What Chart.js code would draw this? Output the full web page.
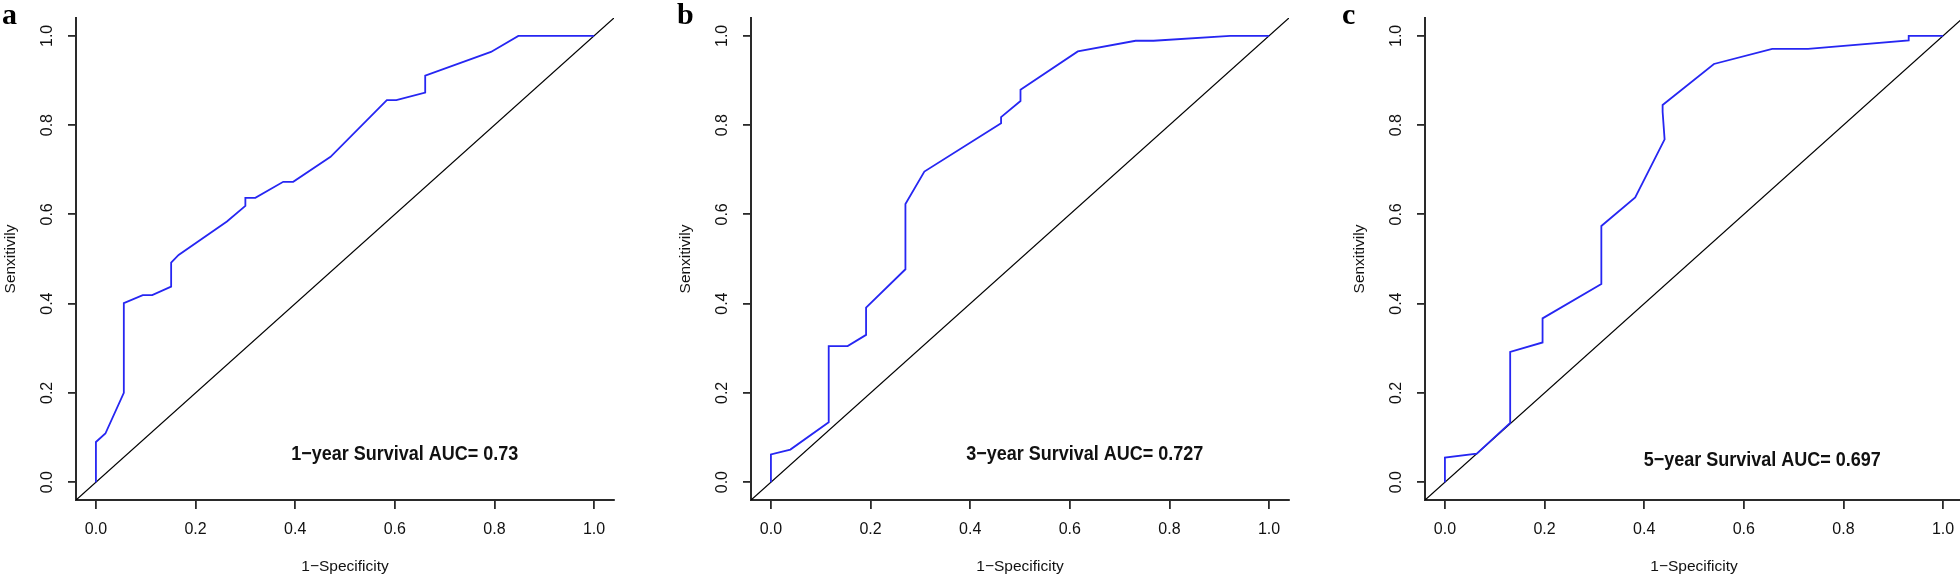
<!DOCTYPE html>
<html>
<head>
<meta charset="utf-8">
<script src="https://cdn.jsdelivr.net/npm/chart.js@4.4.0/dist/chart.umd.min.js"></script>
<style>
  html, body { margin:0; padding:0; background:#fff; overflow:hidden; width:1960px; height:578px; }
  .panel { position:absolute; top:0; width:640px; height:578px; }
</style>
</head>
<body>
<div class="panel" style="left:-14px"><canvas id="rocA" width="640" height="578"></canvas></div>
<div class="panel" style="left:661px"><canvas id="rocB" width="640" height="578"></canvas></div>
<div class="panel" style="left:1335px"><canvas id="rocC" width="640" height="578"></canvas></div>
<script>
// ===== 資料 =====
const fprA = [0, 0, 0.019, 0.056, 0.056, 0.094, 0.113, 0.151, 0.151, 0.166, 0.263, 0.300, 0.300, 0.320, 0.376, 0.396, 0.471, 0.584, 0.603, 0.661, 0.661, 0.793, 0.848, 1.0];
const tprA = [0, 0.090, 0.109, 0.200, 0.401, 0.419, 0.419, 0.438, 0.492, 0.509, 0.584, 0.619, 0.637, 0.637, 0.673, 0.673, 0.729, 0.856, 0.856, 0.873, 0.911, 0.964, 1.0, 1.0];

const fprB = [0, 0, 0.039, 0.116, 0.116, 0.154, 0.191, 0.191, 0.270, 0.270, 0.308, 0.462, 0.462, 0.501, 0.501, 0.616, 0.732, 0.768, 0.922, 1.0];
const tprB = [0, 0.062, 0.073, 0.134, 0.305, 0.305, 0.330, 0.391, 0.477, 0.623, 0.696, 0.804, 0.818, 0.854, 0.879, 0.965, 0.989, 0.989, 1.0, 1.0];

const fprC = [0, 0, 0.064, 0.131, 0.131, 0.196, 0.196, 0.314, 0.314, 0.382, 0.441, 0.437, 0.437, 0.540, 0.657, 0.729, 0.931, 0.931, 1.0];
const tprC = [0, 0.055, 0.064, 0.133, 0.292, 0.313, 0.367, 0.444, 0.574, 0.638, 0.768, 0.830, 0.845, 0.937, 0.971, 0.971, 0.990, 1.0, 1.0];

// 對角參考線 y = x
const refX = [-0.04, 1.04];
const refY = [-0.04, 1.04];

const tickVals = [0, 0.2, 0.4, 0.6, 0.8, 1.0];
const tickLabels = ['0.0', '0.2', '0.4', '0.6', '0.8', '1.0'];

const panelLetters = ['a', 'b', 'c'];
const aucLabels = ['1\u2212year Survival AUC= 0.73', '3\u2212year Survival AUC= 0.727', '5\u2212year Survival AUC= 0.697'];
const xTitle = '1\u2212Specificity';
const yTitle = 'Senxitivily';

// 文字位置（資料座標）
const aucAnchorX = [0.62, 0.63, 0.637];
const aucAnchorY = [0.063, 0.061, 0.049];
const letterX = [16, 16, 7];

const FONT = '"Liberation Sans", Arial, Helvetica, sans-serif';
const AXIS_COLOR = '#2a2a2a';

// ===== 文字外掛：刻度標籤、軸標題、AUC、面板字母 =====
const rocText = {
  id: 'rocText',
  afterDraw(chart, args, opts) {
    const { ctx, chartArea, scales: { x, y } } = chart;
    ctx.save();
    ctx.fillStyle = '#111';
    ctx.textAlign = 'center';
    ctx.textBaseline = 'middle';
    ctx.font = '16px ' + FONT;
    tickVals.forEach((v, i) => {
      ctx.fillText(tickLabels[i], x.getPixelForValue(v), 530);
    });
    tickVals.forEach((v, i) => {
      ctx.save();
      ctx.translate(chartArea.left - 28, y.getPixelForValue(v));
      ctx.rotate(-Math.PI / 2);
      ctx.fillText(tickLabels[i], 0, 0);
      ctx.restore();
    });
    ctx.font = '15.5px ' + FONT;
    ctx.fillText(xTitle, (x.getPixelForValue(-0.04) + x.getPixelForValue(1.04)) / 2, 567);
    ctx.save();
    ctx.translate(chartArea.left - 65, (chartArea.top + chartArea.bottom) / 2);
    ctx.rotate(-Math.PI / 2);
    ctx.fillText(yTitle, 0, 0);
    ctx.restore();

    // AUC
    ctx.save();
    ctx.translate(x.getPixelForValue(aucAnchorX[opts.idx]), y.getPixelForValue(aucAnchorY[opts.idx]));
    ctx.scale(0.9, 1);
    ctx.font = 'bold 20px ' + FONT;
    ctx.fillText(aucLabels[opts.idx], 0, 0);
    ctx.restore();

    // 面板字母
    ctx.font = 'bold 30px "Liberation Serif", "Times New Roman", serif';
    ctx.textAlign = 'left';
    ctx.textBaseline = 'alphabetic';
    ctx.fillStyle = '#000';
    ctx.fillText(panelLetters[opts.idx], letterX[opts.idx], 24);
    ctx.restore();
  }
};

function axisCfg(size, isX) {
  return {
    type: 'linear',
    min: -0.04,
    max: 1.04,
    afterBuildTicks: axis => { axis.ticks = tickVals.map(v => ({ value: v })); },
    afterFit: s => { if (isX) s.height = size; else s.width = size; },
    ticks: { display: false },
    grid: { drawOnChartArea: false, drawTicks: true, tickLength: isX ? 9 : 8, color: AXIS_COLOR, lineWidth: 1.8 },
    border: { display: true, color: AXIS_COLOR, width: 2 }
  };
}

function makeRoc(id, idx, fpr, tpr) {
  new Chart(document.getElementById(id), {
    type: 'scatter',
    data: {
      datasets: [
        {
          data: fpr.map((v, i) => ({ x: v, y: tpr[i] })),
          showLine: true, borderColor: '#2626f2', borderWidth: 1.8,
          pointRadius: 0, tension: 0, order: 1
        },
        {
          data: refX.map((v, i) => ({ x: v, y: refY[i] })),
          showLine: true, borderColor: '#000', borderWidth: 1.3,
          pointRadius: 0, tension: 0, order: 2
        }
      ]
    },
    options: {
      responsive: false,
      animation: false,
      events: [],
      layout: { padding: { top: 18, right: 12, left: 14, bottom: 0 } },
      plugins: { legend: { display: false }, tooltip: { enabled: false }, rocText: { idx } },
      scales: { x: axisCfg(78, true), y: axisCfg(76, false) }
    },
    plugins: [rocText]
  });
}

makeRoc('rocA', 0, fprA, tprA);
makeRoc('rocB', 1, fprB, tprB);
makeRoc('rocC', 2, fprC, tprC);
</script>
</body>
</html>
